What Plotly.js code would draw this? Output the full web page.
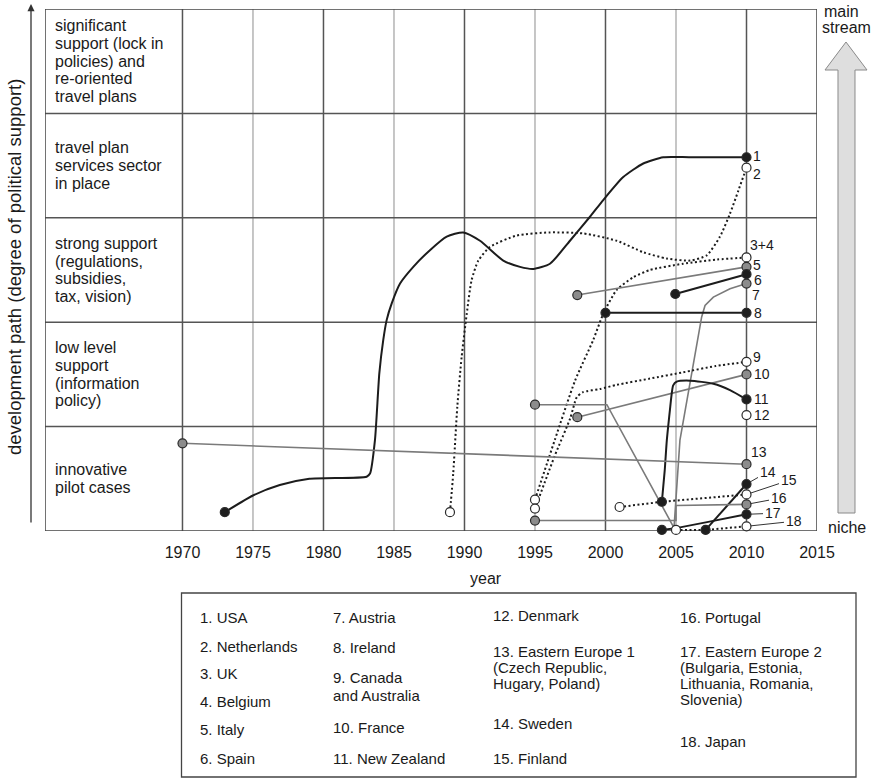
<!DOCTYPE html>
<html><head><meta charset="utf-8">
<script src="https://cdn.plot.ly/plotly-3.0.1.min.js"></script>
<style>html,body{margin:0;padding:0;background:#fff}#chart{width:875px;height:778px}</style>
</head><body><div id="chart"></div>
<script>
// ---------------- data ----------------
const yearTicks = [1970,1975,1980,1985,1990,1995,2000,2005,2010,2015];
const yearTickText = ['1970','1975','1980','1985','1990','1995','2000','2005','2010','2015'];
const levelLabels = [
  ['innovative','pilot cases'],
  ['low level','support','(information','policy)'],
  ['strong support','(regulations,','subsidies,','tax, vision)'],
  ['travel plan','services sector','in place'],
  ['significant','support (lock in','policies) and','re-oriented','travel plans']
];
const legendText = [
  ['1. USA','2. Netherlands','3. UK','4. Belgium','5. Italy','6. Spain'],
  ['7. Austria','8. Ireland','9. Canada','and Australia','10. France','11. New Zealand'],
  ['12. Denmark','13. Eastern Europe 1','(Czech Republic,','Hugary, Poland)','14. Sweden','15. Finland'],
  ['16. Portugal','17. Eastern Europe 2','(Bulgaria, Estonia,','Lithuania, Romania,','Slovenia)','18. Japan']
];

const usaX = [1973.0,1975.0,1976.9,1979.0,1983.06,1983.3,1983.65,1983.96,1984.24,1984.48,1984.84,1985.43,1986.37,1987.55,1988.74,1989.91,1991.1,1992.75,1993.94,1994.88,1996.06,1997.48,1998.9,1999.84,2001.26,2002.68,2004.1,2006.0,2010];
const usaY = [0.18,0.34,0.44,0.50,0.52,0.55,0.87,1.51,1.83,2.02,2.18,2.37,2.53,2.69,2.82,2.86,2.78,2.59,2.53,2.51,2.56,2.78,3.01,3.17,3.39,3.52,3.58,3.58,3.58];
const nlX = [1988.97,1989.2,1989.49,1989.8,1990.16,1990.5,1990.98,1991.8,1993.7,1996.06,1998.43,2000.8,2002.68,2004.34,2006.0,2007.18,2008.12,2008.83,2009.42,2010];
const nlY = [0.18,0.55,1.19,1.67,2.08,2.40,2.59,2.72,2.83,2.86,2.85,2.78,2.67,2.61,2.59,2.64,2.82,3.04,3.26,3.48];
const ukX = [1995,1996.4,1997.84,1999.13,1999.84,2000.8,2001.97,2003.15,2005.5,2007.9,2010];
const ukY = [0.30,0.87,1.44,1.83,2.08,2.31,2.43,2.50,2.56,2.60,2.62];
const itX = [1998.0,2010];
const itY = [2.26,2.53];
const esX = [2004.95,2010];
const esY = [2.27,2.46];
const atX = [1995,2000.1,2004.86,2005.05,2005.28,2006.82,2007.06,2007.65,2008.83,2010];
const atY = [1.21,1.21,0.03,0.45,0.87,2.05,2.16,2.24,2.32,2.37];
const ieX = [2000,2010];
const ieY = [2.09,2.09];
const caX = [1995,1996.4,1997.5,1997.96,1998.4,1999.6,2000.8,2003.15,2005.5,2007.8,2010];
const caY = [0.215,0.72,1.08,1.28,1.33,1.36,1.40,1.46,1.52,1.58,1.62];
const frX = [1998.0,2010];
const frY = [1.09,1.50];
const nzX = [2004.0,2004.2,2004.35,2004.57,2004.7,2004.8,2005.05,2006.0,2007.65,2008.83,2010];
const nzY = [0.28,0.58,0.87,1.16,1.32,1.395,1.43,1.44,1.41,1.35,1.26];
const dkX = [2010];
const dkY = [1.11];
const ee1X = [1970,2010];
const ee1Y = [0.84,0.64];
const seX = [2007.1,2010];
const seY = [0.01,0.45];
const fiX = [2001.0,2004.0,2010];
const fiY = [0.23,0.28,0.35];
const ptX = [1995,2005,2005,2010];
const ptY = [0.10,0.10,0.245,0.255];
const ee2X = [2004.0,2005.1,2007.2,2010];
const ee2Y = [0.01,0.03,0.085,0.16];
const jpX = [2005.0,2007.1,2010];
const jpY = [0.01,0.01,0.045];

const seriesLabels = ['1','2','3+4','5','6','7','8','9','10','11','12','13','14','15','16','17','18'];
const seriesX = [usaX,nlX,ukX,itX,esX,atX,ieX,caX,frX,nzX,dkX,ee1X,seX,fiX,ptX,ee2X,jpX];
const seriesY = [usaY,nlY,ukY,itY,esY,atY,ieY,caY,frY,nzY,dkY,ee1Y,seY,fiY,ptY,ee2Y,jpY];

// ---------------- styles ----------------
const lineKind = ['blackS','dotS','dotS','gray','black','gray','black','dotS','gray','blackS','none','gray','black','dot','gray','black','dot'];
const dotKind  = ['black','open','open','gray','black','gray','black','open','gray','black','open','gray','black','open','gray','black','open'];
const DARK = '#1c1c1c';
const lineStyles = {
  blackS:{color:DARK,width:2,dash:'solid',shape:'spline'},
  black:{color:DARK,width:2,dash:'solid',shape:'linear'},
  dotS:{color:DARK,width:2,dash:'2px,2.5px',shape:'spline'},
  dot:{color:DARK,width:2,dash:'2px,2.5px',shape:'linear'},
  gray:{color:'#7a7a7a',width:1.6,dash:'solid',shape:'linear'}
};
const dotFill = {black:'#1e1e1e',gray:'#8c8c8c',open:'#ffffff'};
// label placement (text left edge dx, dy in px; leader labels: text centre offset)
const labelPlace = {
  '1':[4,-1],'2':[4,6],'3+4':[1,-12],'5':[4,-2],'6':[5,6],'7':[3,11],'8':[5,0],
  '9':[4,-5],'10':[5,0],'11':[5,0],'12':[5,0],'13':[2,-12]
};
const leaderPlace = {'14':[21,-12],'15':[42,-14],'16':[32,-6],'17':[26,-1],'18':[47,-5]};

// ---------------- geometry helpers ----------------
const X0=45, X1=817, Y0=9, Y1=531;
const px = x => (x-X0)/(X1-X0);
const py = y => (Y1-y)/(Y1-Y0);
const XR = [1960.25, 2015];
const FONT = 'Liberation Sans, Arial, Helvetica, sans-serif';
const TXT = '#1a1a1a';

// ---------------- traces ----------------
const traces = [];
seriesX.forEach((xs,i)=>{
  const k = lineKind[i];
  if (k==='none' || xs.length<2) return;
  const st = lineStyles[k];
  traces.push({x:xs,y:seriesY[i],mode:'lines',type:'scatter',cliponaxis:false,
    hoverinfo:'skip',showlegend:false,
    line:{color:st.color,width:st.width,dash:st.dash,shape:st.shape,smoothing:0.6}});
});
const mx=[],my=[],mc=[];
seriesX.forEach((xs,i)=>{
  const ys = seriesY[i];
  mx.push(xs[0]); my.push(ys[0]); mc.push(dotFill[dotKind[i]]);
  if (xs.length>1){ mx.push(xs[xs.length-1]); my.push(ys[ys.length-1]); mc.push(dotFill[dotKind[i]]); }
});
traces.push({x:mx,y:my,mode:'markers',type:'scatter',cliponaxis:false,hoverinfo:'skip',showlegend:false,
  marker:{size:9,color:mc,line:{color:'#2a2a2a',width:1.2}}});

// ---------------- shapes ----------------
const shapes = [];
yearTicks.forEach(yv=>{
  if (yv>=2015) return;
  const major = (yv%10===0);
  shapes.push({type:'line',xref:'x',yref:'y',x0:yv,x1:yv,y0:0,y1:5,layer:'below',
    line:{color: major?'#555555':'#b3b3b3',width:1.5}});
});
for (let r=1;r<5;r++){
  shapes.push({type:'line',xref:'x',yref:'y',x0:XR[0],x1:XR[1],y0:r,y1:r,layer:'below',line:{color:'#555555',width:1.5}});
}
shapes.push({type:'rect',xref:'x',yref:'y',x0:XR[0],x1:XR[1],y0:0,y1:5,layer:'below',line:{color:'#444444',width:1.5}});
// legend box
shapes.push({type:'rect',xref:'paper',yref:'paper',x0:px(181.5),x1:px(856),y0:py(777),y1:py(593),line:{color:'#444444',width:1.3}});
// big mainstream arrow
const ap = [[846,42],[867,70],[855,70],[855,513],[838,513],[838,70],[825,70]];
shapes.push({type:'path',xref:'paper',yref:'paper',
  path: 'M'+ap.map(p=>px(p[0]).toFixed(5)+','+py(p[1]).toFixed(5)).join(' L')+' Z',
  fillcolor:'#dedede',line:{color:'#8a8a8a',width:1}});

// ---------------- annotations ----------------
const ann = [];
const LH = 17.7;
levelLabels.forEach((lines,r)=>{
  const n = lines.length;
  lines.forEach((t,i)=>{
    ann.push({xref:'paper',yref:'y',x:px(53),y:r+0.5,yshift:-(i-(n-1)/2)*LH,xanchor:'left',yanchor:'middle',
      text:t,showarrow:false,font:{family:FONT,size:16,color:TXT}});
  });
});
// end labels
seriesLabels.forEach((lab,i)=>{
  const xs=seriesX[i], ys=seriesY[i];
  const xe=xs[xs.length-1], ye=ys[ys.length-1];
  if (labelPlace[lab]){
    const p=labelPlace[lab];
    ann.push({xref:'x',yref:'y',x:xe,y:ye,xshift:p[0],yshift:-p[1],xanchor:'left',yanchor:'middle',
      text:lab,showarrow:false,font:{family:FONT,size:14,color:TXT}});
  } else if (leaderPlace[lab]){
    const p=leaderPlace[lab];
    ann.push({xref:'x',yref:'y',x:xe,y:ye,ax:p[0],ay:p[1],text:lab,showarrow:true,arrowhead:0,
      arrowwidth:1,arrowcolor:'#333333',standoff:4,xanchor:'center',yanchor:'middle',
      font:{family:FONT,size:14,color:TXT}});
  }
});
// vertical axis arrow + title
ann.push({xref:'paper',yref:'paper',x:px(31),y:py(4),ax:0,ay:527,text:' ',showarrow:true,
  arrowhead:2,arrowsize:1.1,arrowwidth:1.3,arrowcolor:'#333333'});
ann.push({xref:'paper',yref:'paper',x:px(14),y:py(267),text:'development path (degree of political support)',
  textangle:-90,showarrow:false,xanchor:'center',yanchor:'middle',font:{family:FONT,size:18.5,color:TXT}});
// x title
ann.push({xref:'paper',yref:'paper',x:px(486),y:py(578),text:'year',showarrow:false,xanchor:'center',yanchor:'middle',
  font:{family:FONT,size:16,color:TXT}});
// right side
ann.push({xref:'paper',yref:'paper',x:px(842),y:py(11),text:'main',showarrow:false,xanchor:'center',yanchor:'middle',font:{family:FONT,size:16,color:TXT}});
ann.push({xref:'paper',yref:'paper',x:px(820),y:py(28),text:'stream',showarrow:false,xanchor:'left',yanchor:'middle',font:{family:FONT,size:16,color:TXT}});
ann.push({xref:'paper',yref:'paper',x:px(847),y:py(527),text:'niche',showarrow:false,xanchor:'center',yanchor:'middle',font:{family:FONT,size:16,color:TXT}});
// legend text
const legendColX = [198, 331, 491, 678];
const legendLineY = [
  [617,646,674,702,730,758],
  [617,647,677,695,727,758],
  [615,651,667,683,723,758],
  [617,651,667,683,699,741]
];
legendText.forEach((col,c)=>{
  col.forEach((t,i)=>{
    ann.push({xref:'paper',yref:'paper',x:px(legendColX[c]),y:py(legendLineY[c][i]),text:t,showarrow:false,
      xanchor:'left',yanchor:'middle',font:{family:FONT,size:15,color:TXT}});
  });
});

const layout = {
  width:875,height:778,
  margin:{l:X0,r:875-X1,t:Y0,b:778-Y1,pad:0},
  paper_bgcolor:'#ffffff',plot_bgcolor:'#ffffff',
  font:{family:FONT,color:TXT},
  showlegend:false,
  xaxis:{range:XR,tickvals:yearTicks,ticktext:yearTickText,showgrid:false,zeroline:false,showline:false,
    ticks:'outside',ticklen:7,tickcolor:'rgba(0,0,0,0)',tickfont:{family:FONT,size:16,color:TXT},fixedrange:true},
  yaxis:{range:[0,5],showgrid:false,zeroline:false,showline:false,showticklabels:false,ticks:'',fixedrange:true},
  shapes:shapes,
  annotations:ann
};
Plotly.newPlot('chart',traces,layout,{staticPlot:true,displayModeBar:false});
</script>
</body></html>
